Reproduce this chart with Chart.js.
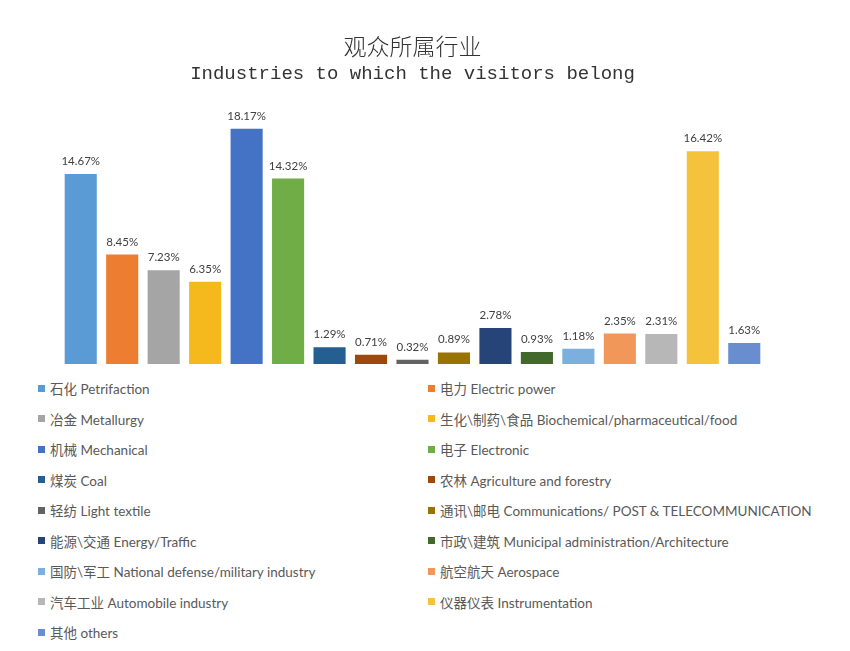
<!DOCTYPE html>
<html>
<head>
<meta charset="utf-8">
<script src="https://cdn.jsdelivr.net/npm/chart.js@4/dist/chart.umd.min.js"></script>
<style>
  html, body { margin: 0; padding: 0; background: #fff; }
  #wrap { position: relative; width: 850px; height: 651px; }
  #c { position: absolute; left: 0; top: 0; }
  #legend { position: absolute; left: 38px; top: 377px; width: 810px;
    display: grid; grid-template-columns: 390px 420px; grid-auto-rows: 30.5px;
    font-family: Lato, "Noto Sans CJK SC", sans-serif; font-size: 13.5px; color: #595959; }
  .item { display: flex; align-items: center; height: 22px; white-space: nowrap; }
  .sw { width: 7px; height: 7px; margin-right: 5px; flex: none; }
</style>
</head>
<body>
<div id="wrap">
  <canvas id="c" width="850" height="370"></canvas>
  <div id="legend"></div>
</div>
<script>
const titleZh = "观众所属行业";
const titleEn = "Industries to which the visitors belong";
const categories = [
  "石化 Petrifaction",
  "电力 Electric power",
  "冶金 Metallurgy",
  "生化\\制药\\食品 Biochemical/pharmaceutical/food",
  "机械 Mechanical",
  "电子 Electronic",
  "煤炭 Coal",
  "农林 Agriculture and forestry",
  "轻纺 Light textile",
  "通讯\\邮电 Communications/  POST & TELECOMMUNICATION",
  "能源\\交通 Energy/Traffic",
  "市政\\建筑 Municipal administration/Architecture",
  "国防\\军工 National defense/military industry",
  "航空航天 Aerospace",
  "汽车工业 Automobile industry",
  "仪器仪表 Instrumentation",
  "其他 others"
];
const values = [14.67, 8.45, 7.23, 6.35, 18.17, 14.32, 1.29, 0.71, 0.32, 0.89, 2.78, 0.93, 1.18, 2.35, 2.31, 16.42, 1.63];
const colors = ["#5B9BD5", "#ED7D31", "#A5A5A5", "#F5B91D", "#4472C4", "#70AD47", "#255E91", "#9E480E",
  "#636363", "#997300", "#264478", "#43682B", "#7CAFDD", "#F1975A", "#B7B7B7", "#F5C33B", "#698ED0"];

const valueLabels = {
  id: "valueLabels",
  afterDatasetsDraw(chart) {
    const ctx = chart.ctx;
    const meta = chart.getDatasetMeta(0);
    ctx.save();
    ctx.font = "11.5px Lato, sans-serif";
    ctx.fillStyle = "#404040";
    ctx.textAlign = "center";
    ctx.textBaseline = "bottom";
    meta.data.forEach((bar, i) => {
      ctx.fillText(values[i].toFixed(2) + "%", bar.x, bar.y - 7);
    });
    ctx.restore();
  }
};

new Chart(document.getElementById("c"), {
  type: "bar",
  data: {
    labels: categories,
    datasets: [{ data: values, backgroundColor: colors, barPercentage: 0.86, categoryPercentage: 0.9 }]
  },
  options: {
    responsive: false,
    animation: false,
    layout: { padding: { left: 60, right: 85, top: 30, bottom: 6 } },
    scales: {
      x: { display: false },
      y: { display: false, min: 0, max: 20 }
    },
    plugins: {
      legend: { display: false },
      tooltip: { enabled: false },
      title: { display: true, text: titleZh, color: "#333333",
        font: { family: "'Noto Sans CJK SC'", size: 23, weight: 300, lineHeight: 1.4 },
        padding: { top: 0, bottom: 0 } },
      subtitle: { display: true, text: titleEn, color: "#333333",
        font: { family: "'Liberation Mono'", size: 19, weight: "normal", lineHeight: 1.2 },
        padding: { top: 0, bottom: 20 } }
    }
  },
  plugins: [valueLabels]
});

const lg = document.getElementById("legend");
categories.forEach((name, i) => {
  const d = document.createElement("div");
  d.className = "item";
  const s = document.createElement("span");
  s.className = "sw";
  s.style.background = colors[i];
  const t = document.createElement("span");
  t.textContent = name;
  d.appendChild(s); d.appendChild(t);
  lg.appendChild(d);
});
</script>
</body>
</html>
